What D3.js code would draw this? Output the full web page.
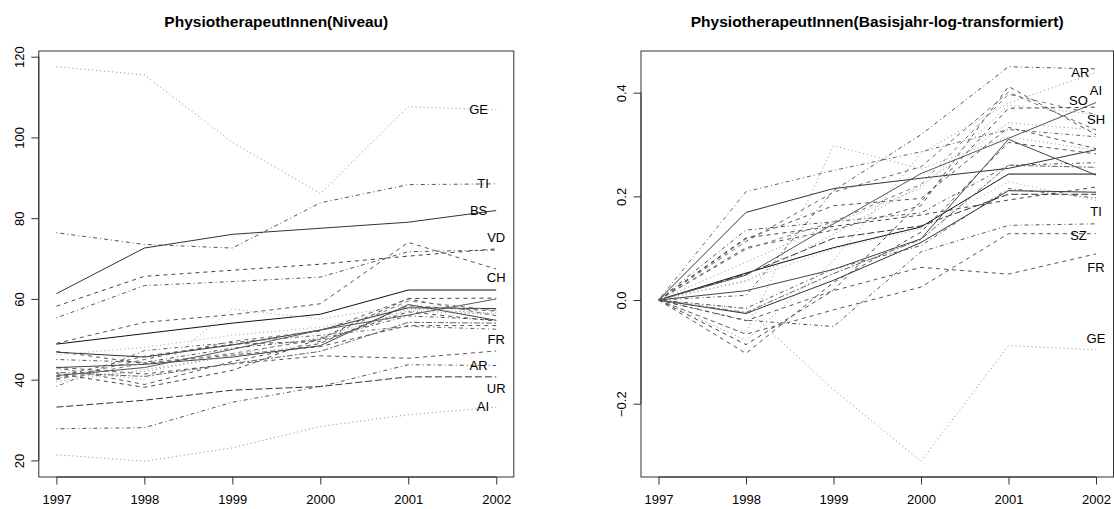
<!DOCTYPE html>
<html><head><meta charset="utf-8">
<script src="https://cdn.jsdelivr.net/npm/d3@7"></script>
<style>
body{margin:0;background:#fff;overflow:hidden;}
svg{display:block;font-family:"Liberation Sans",Arial,Helvetica,sans-serif;}
</style></head>
<body>
<svg id="chart" width="1114" height="509"></svg>
<script>
const years = [1997, 1998, 1999, 2000, 2001, 2002];
const cantons = ["GE","TI","BS","VD","NE","SH","CH","AR","AI","UR","FR","SZ","ZH","BE","LU","SO","GL","ZG","OW","NW","BL","SG","GR","AG","TG","VS","JU"];

// Level values (Niveau), one row per series
const niveau = [
  [117.5,115.5,98.8,86.1,107.6,106.8],
  [76.4,73.5,72.6,83.8,88.3,88.5],
  [61.3,72.6,76.0,77.5,79.0,81.9],
  [58.2,65.6,67.1,68.6,70.6,72.4],
  [55.3,63.3,64.3,65.4,71.7,72.1],
  [49.0,54.2,56.1,58.8,74.0,67.4],
  [48.8,51.4,54.0,56.2,62.2,62.2],
  [27.85,28.1,34.4,38.3,43.7,43.5],
  [21.4,19.8,23.1,28.4,31.3,33.2],
  [33.2,34.9,37.4,38.3,40.7,40.7],
  [43.1,41.4,43.9,45.9,45.3,47.1],
  [47.0,44.0,46.1,48.2,53.4,53.4],
  [46.8,45.6,48.6,52.3,57.8,57.6],
  [43.0,43.8,45.6,48.4,58.6,54.7],
  [41.0,43.0,47.5,52.3,56.0,60.0],
  [41.5,38.1,42.3,50.2,60.1,60.2],
  [43.0,38.8,44.5,49.0,58.3,57.0],
  [38.3,47.2,49.2,51.0,53.2,52.5],
  [42.7,40.0,57.5,55.0,58.5,57.0],
  [40.5,42.0,46.0,50.5,57.0,56.2],
  [40.2,45.0,49.5,52.0,60.0,55.8],
  [45.0,44.3,47.8,50.0,55.8,54.8],
  [46.2,48.0,51.0,53.0,58.0,56.0],
  [40.0,44.1,46.5,50.0,59.5,57.2],
  [41.8,40.8,44.0,47.0,54.2,54.0],
  [39.5,42.5,45.8,49.0,57.5,56.5],
  [40.7,45.8,48.8,49.5,56.8,54.5]
];

// Base-year log values (Basisjahr-log-transformiert)
const logBasis = [
  [0,-0.017,-0.173,-0.311,-0.088,-0.096],
  [0,-0.039,-0.051,0.093,0.144,0.147],
  [0,0.169,0.215,0.235,0.254,0.290],
  [0,0.120,0.142,0.164,0.193,0.218],
  [0,0.135,0.151,0.168,0.260,0.265],
  [0,0.101,0.135,0.182,0.412,0.319],
  [0,0.052,0.101,0.141,0.243,0.243],
  [0,0.009,0.211,0.319,0.450,0.446],
  [0,-0.078,0.076,0.283,0.380,0.439],
  [0,0.050,0.119,0.143,0.204,0.204],
  [0,-0.040,0.018,0.063,0.050,0.089],
  [0,-0.066,-0.019,0.025,0.128,0.128],
  [0,-0.026,0.038,0.111,0.211,0.208],
  [0,0.018,0.059,0.118,0.310,0.241],
  [0,0.048,0.147,0.244,0.312,0.381],
  [0,-0.086,0.019,0.190,0.370,0.372],
  [0,-0.103,0.034,0.131,0.304,0.282],
  [0,0.209,0.250,0.286,0.329,0.315],
  [0,-0.065,0.298,0.253,0.315,0.289],
  [0,0.036,0.127,0.221,0.342,0.328],
  [0,0.113,0.208,0.257,0.401,0.328],
  [0,-0.016,0.060,0.105,0.215,0.197],
  [0,0.038,0.099,0.137,0.228,0.192],
  [0,0.098,0.151,0.223,0.397,0.358],
  [0,-0.024,0.051,0.117,0.260,0.256],
  [0,0.073,0.148,0.216,0.376,0.358],
  [0,0.118,0.182,0.196,0.333,0.292]
];

const yTicksLeft = [20, 40, 60, 80, 100, 120];
const yTicksRight = [-0.2, 0.0, 0.2, 0.4];

const labelsLeft = [
  {t:"GE", x:2001.8, y:106.9}, {t:"TI", x:2001.85, y:88.6}, {t:"BS", x:2001.8, y:81.9},
  {t:"VD", x:2002, y:75.2}, {t:"CH", x:2002, y:65.3}, {t:"FR", x:2002, y:49.9},
  {t:"AR", x:2001.8, y:43.5}, {t:"UR", x:2002, y:37.8}, {t:"AI", x:2001.85, y:33.4}
];
const labelsRight = [
  {t:"AR", x:2001.82, y:0.44}, {t:"AI", x:2002, y:0.405}, {t:"SO", x:2001.8, y:0.385},
  {t:"SH", x:2002, y:0.349}, {t:"TI", x:2002, y:0.172}, {t:"SZ", x:2001.8, y:0.125},
  {t:"FR", x:2002, y:0.063}, {t:"GE", x:2002, y:-0.073}
];

// styles (kept apart from data)
const dashes = {solid:null, dashed:"4,4", dotted:"1,3", dotdash:"1,3,4,3", longdash:"7,3", twodash:"2,2,6,2"};
const lineType = ["dotted","dotdash","solid","dashed","dotdash","dashed","solid","dotdash","dotted","longdash","dashed","dashed","solid","solid","solid","dashed","dashed","dotdash","dotted","dotted","dashed","dotdash","dotted","dashed","twodash","dotted","dashed"];
const lineGray = ["#8a8a8a","#555","#333","#444","#555","#555","#111","#555","#8a8a8a","#333","#555","#555","#333","#444","#555","#444","#555","#666","#999","#888","#666","#555","#aaa","#777","#666","#999","#555"];

const svg = d3.select("#chart");
const FONT = "Liberation Sans, Arial, sans-serif";

function panel(opts){
  const {x0, x1, y0, y1, data, ticks, tickFmt, labels, title} = opts;
  const g = svg.append("g");
  const xs = d3.scaleLinear().domain([years[0]-0.2, years[years.length-1]+0.2]).range([x0, x1]);
  const flat = data.flat();
  const mn = d3.min(flat), mx = d3.max(flat), pad = (mx - mn) * 0.04;
  const ys = d3.scaleLinear().domain([mn - pad, mx + pad]).range([y1, y0]);

  const line = d3.line().x((d,i) => xs(years[i])).y(d => ys(d));
  g.selectAll("path.series").data(data).enter().append("path")
    .attr("class","series")
    .attr("d", line)
    .attr("fill","none")
    .attr("stroke", (d,i) => lineGray[i])
    .attr("stroke-width", 1)
    .attr("stroke-dasharray", (d,i) => dashes[lineType[i]]);

  // box
  g.append("rect").attr("x", x0).attr("y", y0).attr("width", x1-x0).attr("height", y1-y0)
    .attr("fill","none").attr("stroke","#333").attr("stroke-width",1);

  // x axis
  const xa = g.append("g").attr("transform", `translate(0,${y1})`)
    .call(d3.axisBottom(xs).tickValues(years).tickFormat(d3.format("d")).tickSize(7.5).tickPadding(10));
  xa.select(".domain").attr("d", `M${xs(years[0])},0H${xs(years[years.length-1])}`).attr("stroke","#333");
  xa.selectAll(".tick line").attr("stroke","#333");
  xa.selectAll("text").attr("font-size", 13).attr("fill","#000").attr("font-family", FONT);

  // y axis
  const ya = g.append("g").attr("transform", `translate(${x0},0)`)
    .call(d3.axisLeft(ys).tickValues(ticks).tickFormat(tickFmt).tickSize(7.5).tickPadding(4));
  ya.select(".domain").attr("d", `M0,${ys(ticks[0])}V${ys(ticks[ticks.length-1])}`).attr("stroke","#333");
  ya.selectAll(".tick line").attr("stroke","#333");
  ya.selectAll(".tick text")
    .attr("font-size", 13).attr("fill","#000").attr("font-family", FONT)
    .attr("x", null)
    .attr("text-anchor","middle")
    .attr("transform", "translate(-19.5,0) rotate(-90)")
    .attr("dy","0.35em").attr("y", 0);

  // labels
  g.selectAll("text.lab").data(labels).enter().append("text")
    .attr("class","lab")
    .attr("x", d => xs(d.x)).attr("y", d => ys(d.y))
    .attr("dy","0.36em")
    .attr("text-anchor","middle")
    .attr("font-size", 13)
    .attr("font-family", FONT)
    .attr("fill","#000")
    .text(d => d.t);

  // title
  g.append("text").attr("x", (x0+x1)/2).attr("y", 26.5)
    .attr("text-anchor","middle").attr("font-weight","bold").attr("font-size", 15.5)
    .attr("font-family", FONT)
    .attr("fill","#000").text(title);
}

panel({x0:38.8, x1:513.8, y0:51, y1:477, data:niveau, ticks:yTicksLeft, tickFmt:d3.format("d"),
  labels:labelsLeft, title:"PhysiotherapeutInnen(Niveau)"});
panel({x0:641, x1:1113.5, y0:51, y1:477, data:logBasis, ticks:yTicksRight, tickFmt:d3.format(".1f"),
  labels:labelsRight, title:"PhysiotherapeutInnen(Basisjahr-log-transformiert)"});
</script>
</body></html>
